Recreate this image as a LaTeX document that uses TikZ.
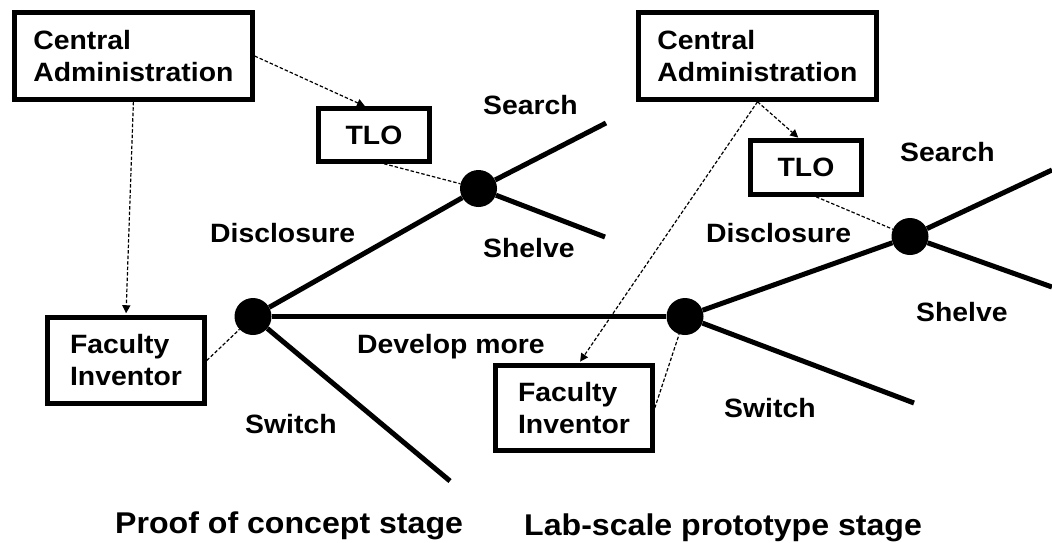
\documentclass[tikz,border=0pt]{standalone}
\usepackage{fontspec}
\setmainfont[FakeStretch=1.07]{Liberation Sans}
\usetikzlibrary{arrows.meta,calc}
\newcommand\dgboxfont{\bfseries\fontsize{26.5}{32}\selectfont}
\newcommand\dgcapfont{\bfseries\fontsize{30}{36}\selectfont}
\tikzset{
  box/.style={draw, line width=4.5pt, rectangle, inner sep=0pt, align=left, font=\dgboxfont},
  dot/.style={circle, fill=black, draw=none, inner sep=0pt, minimum size=37pt},
  branch/.style={line width=5pt},
  dashln/.style={line width=1.2pt, dash pattern=on 3.5pt off 2pt},
  arr/.style={-{Triangle[length=8pt,width=8pt]}},
  lbl/.style={anchor=base west, inner sep=0pt, font=\dgboxfont},
  capt/.style={anchor=base west, inner sep=0pt, font=\dgcapfont}
}
\begin{document}
\begin{tikzpicture}[x=1pt,y=-1pt]
\useasboundingbox (0,0) rectangle (1052,542);
% boxes
\node[box, minimum width=238pt, minimum height=87pt] (ca1) at (133.4,56) {Central\\Administration};
\node[box, minimum width=111pt, minimum height=53pt] (tlo1) at (374,135) {TLO};
\node[box, minimum width=157pt, minimum height=86pt] (fi1) at (126,360.5) {Faculty\\Inventor};
\node[box, minimum width=238pt, minimum height=87pt] (ca2) at (757.5,56) {Central\\Administration};
\node[box, minimum width=111pt, minimum height=54pt] (tlo2) at (806,167.5) {TLO};
\node[box, minimum width=157pt, minimum height=85pt] (fi2) at (574,408) {Faculty\\Inventor};
% decision points
\node[dot] (n1) at (253,316.5) {};
\node[dot] (n2) at (478.5,188.5) {};
\node[dot] (n3) at (685,316.5) {};
\node[dot] (n4) at (910,236.5) {};
% free ends
\coordinate (s1) at (606,123);
\coordinate (h1) at (605,237);
\coordinate (w1) at (450,481);
\coordinate (s2) at (1052,170);
\coordinate (h2) at (1052,287);
\coordinate (w2) at (914,403);
% branches
\draw[branch] (n1) -- (n2);
\draw[branch] (n2) -- (s1);
\draw[branch] (n2) -- (h1);
\draw[branch] (n1) -- (w1);
\draw[branch] (n1) -- (n3);
\draw[branch] (n3) -- (n4);
\draw[branch] (n4) -- (s2);
\draw[branch] (n4) -- (h2);
\draw[branch] (n3) -- (w2);
% dashed influence lines
\draw[dashln, arr] (ca1.east) -- ($(tlo1.north)+(-9,0)$);
\draw[dashln, arr, shorten >=2pt] (ca1.south) -- (fi1.north);
\draw[dashln] (fi1.east) -- (n1);
\draw[dashln] ($(tlo1.south)+(10,0)$) -- (n2);
\draw[dashln, arr, shorten >=1pt] (ca2.south) -- ($(tlo2.north)+(-7,0)$);
\draw[dashln, arr, shorten >=2pt] (ca2.south) -- ($(fi2.north)+(5,0)$);
\draw[dashln] (fi2.east) -- (n3);
\draw[dashln] ($(tlo2.south)+(10,0)$) -- (n4);
% labels
\node[lbl] (lsearch1) at (483,114) {Search};
\node[lbl] (lshelve1) at (483,257) {Shelve};
\node[lbl] (ldisc1) at (210,242) {Disclosure};
\node[lbl] (ldev) at (357,353) {Develop more};
\node[lbl] (lswitch1) at (245,433) {Switch};
\node[lbl] (ldisc2) at (706,242) {Disclosure};
\node[lbl] (lsearch2) at (900,161) {Search};
\node[lbl] (lshelve2) at (916,321) {Shelve};
\node[lbl] (lswitch2) at (724,417) {Switch};
% stage captions
\node[capt] (cap1) at (115,533) {Proof of concept stage};
\node[capt] (cap2) at (524,535) {Lab-scale prototype stage};
\end{tikzpicture}
\end{document}
